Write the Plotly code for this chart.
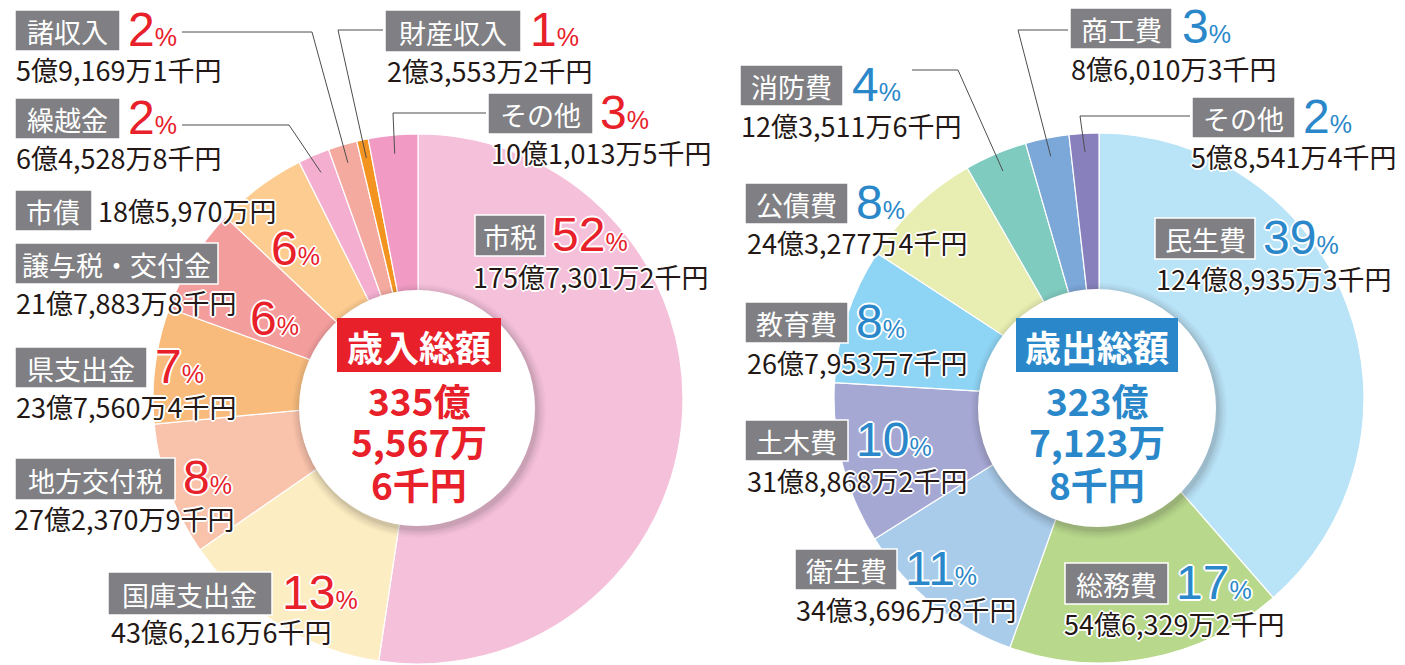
import math
import plotly.graph_objects as go

# The page body has an 8px default margin; the figure fills the rest of the 1405x665 window.
OFF = 8
W, H = 1405 - OFF, 665 - OFF

# ---------------- data ----------------
rev_labels = ["市税", "国庫支出金", "地方交付税", "県支出金", "譲与税・交付金",
              "市債", "繰越金", "諸収入", "財産収入", "その他"]
rev_values = [17573012, 4362166, 2723709, 2375604, 2178838,
              1859700, 645288, 591691, 235532, 1010135]  # 千円
rev_pct = [52, 13, 8, 7, 6, 6, 2, 2, 1, 3]
rev_total = 33555676  # 千円
rev_colors = ["#F5C0DA", "#FDEDC2", "#F9C2AA", "#F8BB7C", "#F39D9C",
              "#FDCC90", "#F4AFD0", "#F5AAA0", "#F39420", "#F19BC4"]

exp_labels = ["民生費", "総務費", "衛生費", "土木費", "教育費",
              "公債費", "消防費", "商工費", "その他"]
exp_values = [12489353, 5463292, 3436968, 3188682, 2679537,
              2432774, 1235116, 860103, 585414]  # 千円
exp_pct = [39, 17, 11, 10, 8, 8, 4, 3, 2]
exp_total = 32371238  # 千円
exp_colors = ["#B9E3F7", "#B8D88B", "#A9CCEB", "#A6A8D4", "#8ED4F4",
              "#E8EEB1", "#7FCBBF", "#7BA7D9", "#8780BD"]

rev_total_title = "歳入総額"
exp_total_title = "歳出総額"

RED = "#E8202A"
BLUE = "#2A88CA"
GRAY = "#807F83"
INK = "#231815"
JP = "Noto Sans CJK JP"
NUM = "Liberation Sans"


def fmt_amount(v):
    oku = v // 100000
    man = (v % 100000) // 10
    sen = v % 10
    s = f"{oku}億"
    if man:
        s += f"{man:,}万"
    s += f"{sen}千円" if sen else "円"
    return s


def fmt_total_lines(v):
    oku = v // 100000
    man = (v % 100000) // 10
    sen = v % 10
    return [f"{oku}億", f"{man:,}万", f"{sen}千円"]


def px(x):
    return (x - OFF) / W


def py(y):
    return 1 - (y - OFF) / H


R = 265
LC = (418, 399)
RC = (1099, 398)

fig = go.Figure()
for labels, values, colors, c in [(rev_labels, rev_values, rev_colors, LC),
                                  (exp_labels, exp_values, exp_colors, RC)]:
    fig.add_trace(go.Pie(
        labels=labels, values=values, sort=False, direction="clockwise", rotation=0,
        marker=dict(colors=colors, line=dict(color="white", width=1.2)),
        textinfo="none", hoverinfo="label+value+percent", showlegend=False,
        domain=dict(x=[px(c[0] - R), px(c[0] + R)],
                    y=[max(0, py(c[1] + R)), min(1, py(c[1] - R))]),
    ))

shapes = []
annotations = []
HALO = ("1px 1px 0 #fff, -1px -1px 0 #fff, 1px -1px 0 #fff, -1px 1px 0 #fff, "
        "0 2px 0 #fff, 0 -2px 0 #fff, 2px 0 0 #fff, -2px 0 0 #fff")


def mid_point(values, i, c, frac=0.93):
    tot = sum(values)
    cum = sum(values[:i]) + values[i] / 2
    th = 2 * math.pi * cum / tot
    return c[0] + R * frac * math.sin(th), c[1] - R * frac * math.cos(th)


def add_label(name, box, pct, pct_x, pct_y, amount, am_x, am_y, color):
    x0, y0, x1, y1 = box
    shapes.append(dict(type="rect", xref="paper", yref="paper",
                       x0=px(x0), x1=px(x1), y0=py(y1), y1=py(y0),
                       fillcolor=GRAY, line=dict(color="white", width=1.5),
                       layer="above"))
    annotations.append(dict(x=px((x0 + x1) / 2), y=py((y0 + y1) / 2 + 1), xref="paper", yref="paper",
                            text=name, showarrow=False, xanchor="center", yanchor="middle",
                            font=dict(family=JP, size=27, color="white")))
    annotations.append(dict(x=px(pct_x), y=py(pct_y), xref="paper", yref="paper",
                            text=f"{pct}<span style='font-size:25px'>%</span>",
                            showarrow=False, xanchor="left", yanchor="middle", borderpad=0,
                            font=dict(family=NUM, size=48, color=color, shadow=HALO)))
    annotations.append(dict(x=px(am_x), y=py(am_y), xref="paper", yref="paper",
                            text=amount, showarrow=False, xanchor="left", yanchor="middle", borderpad=0,
                            font=dict(family=JP, size=27, color=INK, shadow=HALO)))


# layout positions (pixels): box, pct (x, y), amount (x, y)
rev_pos = {
    "市税": ((475, 215, 545, 256), (551, 234), (472, 276)),
    "国庫支出金": ((108, 572, 272, 615), (281, 592), (110, 631)),
    "地方交付税": ((15, 458, 175, 500), (182, 477), (13, 518)),
    "県支出金": ((15, 347, 147, 388), (154, 366), (15, 406)),
    "譲与税・交付金": ((15, 243, 218, 284), (249, 319), (15, 302)),
    "市債": ((15, 190, 92, 231), (270, 248), (97, 211)),
    "繰越金": ((15, 98, 120, 139), (127, 117), (15, 157)),
    "諸収入": ((15, 10, 120, 51), (127, 29), (15, 69)),
    "財産収入": ((385, 10, 521, 52), (529, 29), (386, 70)),
    "その他": ((488, 93, 593, 134), (599, 112), (490, 152)),
}
exp_pos = {
    "民生費": ((1155, 218, 1255, 259), (1262, 237), (1155, 279)),
    "総務費": ((1065, 563, 1168, 604), (1175, 582), (1063, 623)),
    "衛生費": ((795, 549, 897, 590), (904, 568), (795, 609)),
    "土木費": ((745, 420, 848, 461), (855, 439), (746, 480)),
    "教育費": ((745, 302, 848, 343), (855, 321), (746, 362)),
    "公債費": ((745, 183, 848, 224), (855, 202), (746, 242)),
    "消防費": ((740, 65, 843, 106), (851, 84), (740, 125)),
    "商工費": ((1070, 8, 1172, 49), (1181, 27), (1070, 68)),
    "その他": ((1192, 97, 1295, 138), (1302, 116), (1190, 156)),
}

# leader lines: label -> (start, elbow)
rev_leaders = {"諸収入": ((182, 32), (312, 32)), "繰越金": ((182, 125), (289, 125)),
               "財産収入": ((383, 30), (338, 30)), "その他": ((486, 113), (393, 113))}
exp_leaders = {"消防費": ((912, 70), (958, 70)), "商工費": ((1068, 30), (1018, 30)),
               "その他": ((1190, 116), (1080, 116))}

for labels, values, pcts, pos, leaders, c, color in [
        (rev_labels, rev_values, rev_pct, rev_pos, rev_leaders, LC, RED),
        (exp_labels, exp_values, exp_pct, exp_pos, exp_leaders, RC, BLUE)]:
    for i, name in enumerate(labels):
        if name in leaders:
            (sx, sy), (ex, ey) = leaders[name]
            mx, my = mid_point(values, i, c)
            shapes.append(dict(type="path", xref="paper", yref="paper",
                               path=f"M{px(sx)},{py(sy)} L{px(ex)},{py(ey)} L{px(mx)},{py(my)}",
                               line=dict(color="#4D4D4D", width=1), layer="above"))
    for i, name in enumerate(labels):
        box, (pxx, pyy), (ax, ay) = pos[name]
        add_label(name, box, pcts[i], pxx, pyy, fmt_amount(values[i]), ax, ay, color)

# center circles with soft shadow
for (cx, cy), r, title, total, color, boxx in [
        ((417, 408), 118, rev_total_title, rev_total, RED, (337, 501)),
        ((1097, 408), 119, exp_total_title, exp_total, BLUE, (1016, 1178))]:
    for k, a in [(9, 0.03), (7, 0.04), (5, 0.05), (3, 0.06), (1.5, 0.07)]:
        shapes.append(dict(type="circle", xref="paper", yref="paper",
                           x0=px(cx - r - k + 2), x1=px(cx + r + k + 2),
                           y0=py(cy + r + k + 3), y1=py(cy - r - k + 3),
                           fillcolor=f"rgba(60,60,60,{a})", line=dict(width=0), layer="above"))
    shapes.append(dict(type="circle", xref="paper", yref="paper",
                       x0=px(cx - r), x1=px(cx + r), y0=py(cy + r), y1=py(cy - r),
                       fillcolor="white", line=dict(width=0), layer="above"))
    shapes.append(dict(type="rect", xref="paper", yref="paper",
                       x0=px(boxx[0]), x1=px(boxx[1]), y0=py(372), y1=py(318),
                       fillcolor=color, line=dict(width=0), layer="above"))
    mid = (boxx[0] + boxx[1]) / 2
    annotations.append(dict(x=px(mid), y=py(346), xref="paper", yref="paper", text=title,
                            showarrow=False, xanchor="center", yanchor="middle",
                            font=dict(family=JP, size=36, color="white", weight="bold")))
    for line_txt, yy in zip(fmt_total_lines(total), [400, 441, 484]):
        annotations.append(dict(x=px(mid), y=py(yy), xref="paper", yref="paper", text=line_txt,
                                showarrow=False, xanchor="center", yanchor="middle",
                                font=dict(family=JP, size=37, color=color, weight="bold")))

fig.update_layout(width=W, height=H, margin=dict(l=0, r=0, t=0, b=0),
                  paper_bgcolor="white", plot_bgcolor="white",
                  shapes=shapes, annotations=annotations)

fig.write_html("out.html")
